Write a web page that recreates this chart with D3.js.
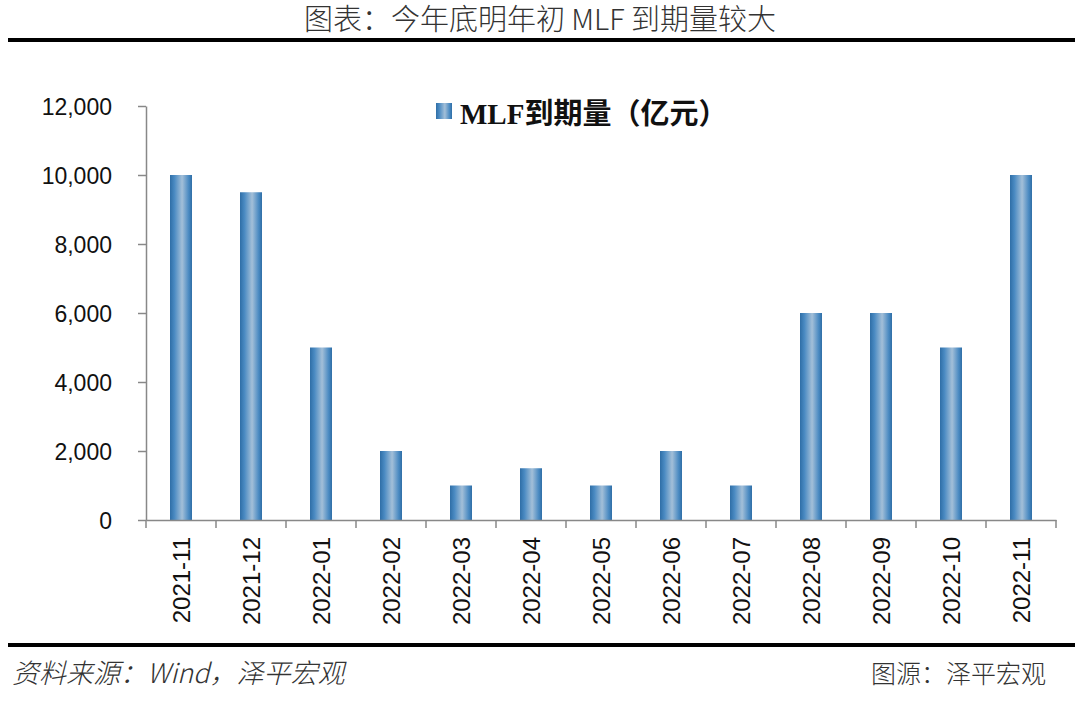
<!DOCTYPE html>
<html>
<head>
<meta charset="utf-8">
<script src="https://cdn.jsdelivr.net/npm/d3@7"></script>
<style>
  body { margin: 0; background: #fff; }
  svg { display: block; }
  .tick text { font-family: "Liberation Sans", Arial, sans-serif; fill: #111; }
</style>
</head>
<body>
<svg width="1080" height="707"></svg>
<script>
const months = ['2021-11', '2021-12', '2022-01', '2022-02', '2022-03', '2022-04', '2022-05',
  '2022-06', '2022-07', '2022-08', '2022-09', '2022-10', '2022-11'];
const mlfDue = [10000, 9500, 5000, 2000, 1000, 1500, 1000, 2000, 1000, 6000, 6000, 5000, 10000];
const yTicks = [0, 2000, 4000, 6000, 8000, 10000, 12000];

const svg = d3.select('svg');
const width = +svg.attr('width');
const height = +svg.attr('height');

// plot area
const margin = { top: 106, right: 24, bottom: 187, left: 146 };
const innerWidth = width - margin.left - margin.right;
const innerHeight = height - margin.top - margin.bottom;

// bar gradient: dark edges, light middle
const defs = svg.append('defs');
const grad = defs.append('linearGradient').attr('id', 'barGrad')
  .attr('x1', '0%').attr('x2', '100%').attr('y1', '0%').attr('y2', '0%');
grad.append('stop').attr('offset', '0%').attr('stop-color', '#2f6ea6');
grad.append('stop').attr('offset', '20%').attr('stop-color', '#4a8ac2');
grad.append('stop').attr('offset', '55%').attr('stop-color', '#a3bfd8');
grad.append('stop').attr('offset', '85%').attr('stop-color', '#4a8ac2');
grad.append('stop').attr('offset', '100%').attr('stop-color', '#2f6ea6');

// header
svg.append('text')
  .attr('x', width / 2).attr('y', 30)
  .attr('text-anchor', 'middle')
  .style('font-family', '"Noto Sans CJK SC", sans-serif')
  .style('font-weight', 300)
  .style('font-size', '29px')
  .attr('fill', '#333')
  .text('图表：今年底明年初 MLF 到期量较大');

svg.append('line')
  .attr('x1', 8).attr('x2', 1075).attr('y1', 40).attr('y2', 40)
  .attr('stroke', '#000').attr('stroke-width', 4);

svg.append('line')
  .attr('x1', 8).attr('x2', 1075).attr('y1', 645).attr('y2', 645)
  .attr('stroke', '#000').attr('stroke-width', 4);

svg.append('text')
  .attr('x', 12).attr('y', 683)
  .style('font-family', '"Noto Sans CJK SC", sans-serif')
  .style('font-style', 'italic')
  .style('font-weight', 300)
  .style('font-size', '27px')
  .attr('fill', '#333')
  .text('资料来源：Wind，泽平宏观');

svg.append('text')
  .attr('x', 1046).attr('y', 683)
  .attr('text-anchor', 'end')
  .style('font-family', '"Noto Sans CJK SC", sans-serif')
  .style('font-weight', 300)
  .style('font-size', '25px')
  .attr('fill', '#333')
  .text('图源：泽平宏观');

const g = svg.append('g')
  .attr('transform', `translate(${margin.left},${margin.top})`);

const xScale = d3.scaleBand()
  .domain(months)
  .range([0, innerWidth]);

const yScale = d3.scaleLinear()
  .domain([0, 12000])
  .range([innerHeight, 0]);

// y axis
const yAxisG = g.append('g')
  .call(d3.axisLeft(yScale)
    .tickValues(yTicks)
    .tickFormat(d3.format(','))
    .tickSize(8)
    .tickPadding(26)
    .tickSizeOuter(0));
yAxisG.select('.domain').attr('stroke', '#888').attr('stroke-width', 1.5);
yAxisG.selectAll('.tick line').attr('stroke', '#888').attr('stroke-width', 1.5);
yAxisG.selectAll('.tick text').style('font-size', '23px').attr('dy', '0.36em');

// bars
g.selectAll('rect.bar')
  .data(months)
  .enter()
  .append('rect')
  .attr('class', 'bar')
  .attr('x', (d) => xScale(d) + xScale.bandwidth() / 2 - 11)
  .attr('y', (d, i) => yScale(mlfDue[i]))
  .attr('width', 22)
  .attr('height', (d, i) => innerHeight - yScale(mlfDue[i]))
  .attr('fill', 'url(#barGrad)');

// x axis: ticks at category boundaries
const xAxisG = g.append('g')
  .attr('transform', `translate(0,${innerHeight})`)
  .call(d3.axisBottom(xScale).tickSize(0).tickPadding(10));
xAxisG.select('.domain').attr('stroke', '#888').attr('stroke-width', 1.5);
xAxisG.selectAll('.tick text')
  .style('font-size', '24px')
  .attr('transform', 'rotate(-90)')
  .attr('text-anchor', 'end')
  .attr('x', -17)
  .attr('y', 0)
  .attr('dy', '0.36em');

xAxisG.selectAll('line.boundary')
  .data(months.map((d) => xScale(d)).concat([innerWidth]))
  .enter()
  .append('line')
  .attr('class', 'boundary')
  .attr('x1', (d) => d).attr('x2', (d) => d)
  .attr('y1', 0).attr('y2', 8)
  .attr('stroke', '#888').attr('stroke-width', 1.5);

// legend
const legend = svg.append('g').attr('transform', 'translate(436,103)');
legend.append('rect')
  .attr('width', 16).attr('height', 16)
  .attr('fill', 'url(#barGrad)');
legend.append('text')
  .attr('x', 24).attr('y', 21)
  .style('font-family', '"Liberation Serif", "Noto Sans CJK SC", serif')
  .style('font-weight', 'bold')
  .style('font-size', '29px')
  .attr('fill', '#111')
  .text('MLF到期量（亿元）');
</script>
</body>
</html>
